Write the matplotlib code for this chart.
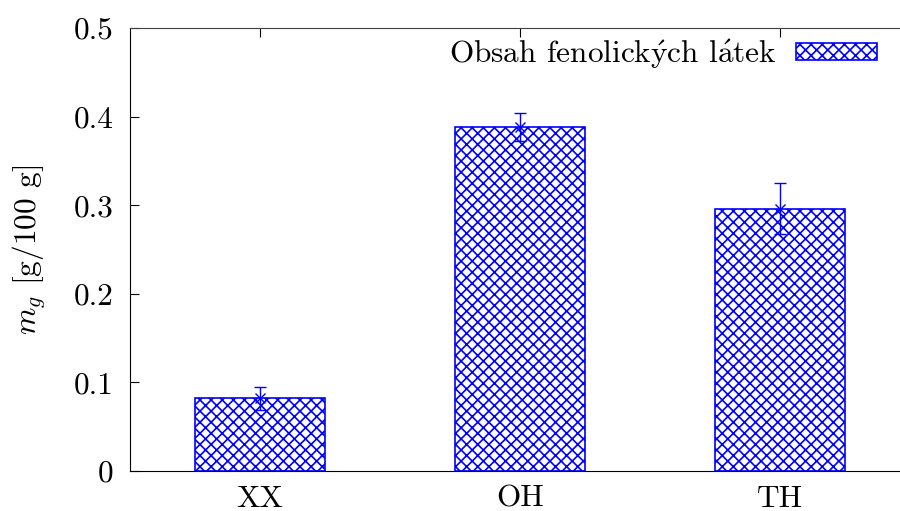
import matplotlib.pyplot as plt
import matplotlib.ticker as mticker

# obsah fenolickych latek ve vzorcich
vzorky = ["XX", "OH", "TH"]
obsah = [0.082, 0.388, 0.296]
chyba = [0.013, 0.016, 0.029]

plt.rcParams["font.family"] = ["cmr10", "DejaVu Serif"]
plt.rcParams["mathtext.fontset"] = "cm"
plt.rcParams["axes.formatter.use_mathtext"] = True
plt.rcParams["hatch.linewidth"] = 1.2
plt.rcParams["hatch.color"] = "blue"

fs = 22.5

fig = plt.figure(figsize=(9, 5.11), dpi=100)
ax = fig.add_axes([130 / 900, 40 / 511, 770 / 900, 443 / 511])

x = range(len(vzorky))
ax.bar(x, obsah, width=0.5, facecolor="white", edgecolor="blue", hatch="xxx",
       linewidth=1.2, zorder=2,
       label=r"Obsah fenolick$\acute{\mathrm{y}}$ch l$\acute{\mathrm{a}}$tek")
ax.errorbar(x, obsah, yerr=chyba, fmt="x", color="blue", ms=7, mew=1,
            elinewidth=1, capsize=4, capthick=1, zorder=3)

ax.set_xlim(-0.5, 2.46)
ax.set_ylim(0, 0.5)
ax.set_xticks(list(x))
ax.set_xticklabels(vzorky)
ax.set_yticks([0, 0.1, 0.2, 0.3, 0.4, 0.5])
ax.yaxis.set_major_formatter(mticker.FuncFormatter(lambda v, p: f"{v:g}"))
ax.tick_params(axis="both", direction="in", length=6.5, width=0.8, labelsize=fs, pad=12)
ax.tick_params(axis="x", top=True, bottom=False, pad=10)
ax.spines["right"].set_visible(False)
ax.spines["top"].set_color("#404040")

ax.set_ylabel(r"$m_g$ [g/100 g]", fontsize=fs, labelpad=18)

ax.legend(loc="upper right", bbox_to_anchor=(877 / 900, 1 - 37 / 511),
          bbox_transform=fig.transFigure, frameon=False, fontsize=fs,
          markerfirst=False, handlelength=2.6, handleheight=0.46,
          handletextpad=0.62, borderpad=0, borderaxespad=0)

fig.savefig("out.png", dpi=100)
